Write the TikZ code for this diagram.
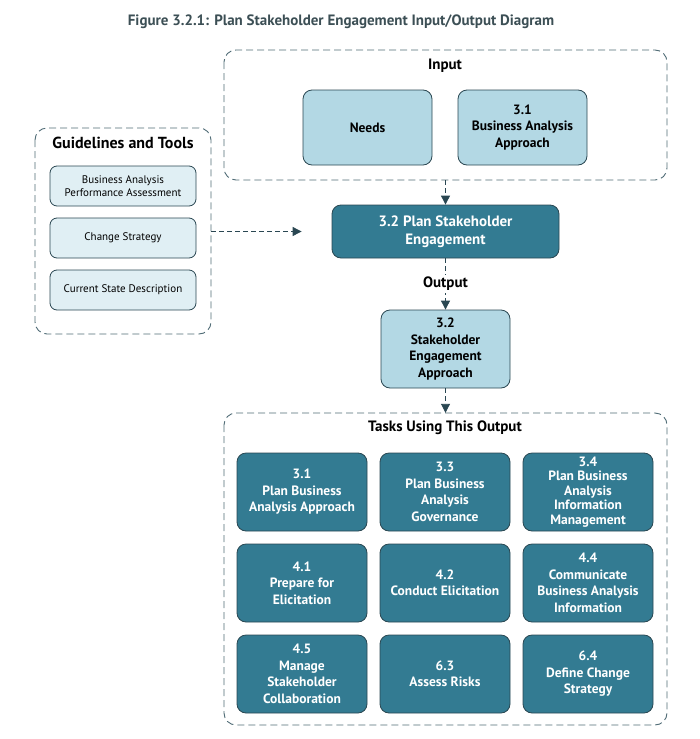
\documentclass[tikz,border=0pt]{standalone}
\usepackage{fontspec}
\setmainfont{PT Sans}
\usetikzlibrary{arrows.meta}
\definecolor{tealdark}{HTML}{337B92}
\definecolor{bluelight}{HTML}{B3D8E4}
\definecolor{bluepale}{HTML}{E0EFF4}
\definecolor{edge}{HTML}{2A4752}
\definecolor{dash}{HTML}{4F6B75}
\definecolor{ink}{HTML}{3C4F55}
\begin{document}
\begin{tikzpicture}[x=1pt,y=-1pt,
	box/.style={draw=edge,line width=.8pt,rounded corners=9pt,align=center,inner sep=2pt,font=\bfseries\fontsize{13.5}{16.5}\selectfont},
	inbox/.style={box,fill=bluelight,minimum width=129pt,minimum height=75pt},
	taskbox/.style={box,fill=tealdark,text=white,minimum width=130pt,minimum height=78pt},
	toolbox/.style={box,fill=bluepale,font=\fontsize{11}{12.5}\selectfont,minimum width=146pt,minimum height=40pt,rounded corners=7pt},
	group/.style={draw=dash,dashed,dash pattern=on 7pt off 4pt,line width=.9pt,rounded corners=12pt},
	flow/.style={draw=edge,dashed,dash pattern=on 5pt off 3pt,line width=.9pt,-{Triangle[length=9pt,width=9pt]}},
	caption/.style={font=\bfseries\fontsize{15}{17}\selectfont}]
\useasboundingbox(0,0)rectangle(700,739);
\node[caption,text=ink]at(341,22){Figure 3.2.1: Plan Stakeholder Engagement Input/Output Diagram};
% input
\draw[group](224,50)rectangle(667,180);
\node(input)[minimum width=443pt,minimum height=130pt]at(445.5,115){};
\node[caption]at(445,66){Input};
\node(needs)[inbox]at(367.5,127.5){Needs};
\node(baa)[inbox]at(522.5,127.5){3.1\\Business Analysis\\Approach};
% guidelines and tools
\draw[group](35,128)rectangle(211,334);
\node(guide)[minimum width=176pt,minimum height=206pt]at(123,231){};
\node[caption,font=\bfseries\fontsize{16}{18}\selectfont]at(123,143){Guidelines and Tools};
\node(bapa)[toolbox]at(123,186){Business Analysis\\Performance Assessment};
\node(cs)[toolbox]at(123,238){Change Strategy};
\node(csd)[toolbox]at(123,290){Current State Description};
% task
\node(plan)[box,fill=tealdark,text=white,minimum width=227pt,minimum height=53pt,font=\bfseries\fontsize{15}{18}\selectfont]at(445.5,231.5){3.2 Plan Stakeholder\\Engagement};
\node(sea)[inbox,minimum height=78pt]at(445.5,349){3.2\\Stakeholder\\Engagement\\Approach};
% tasks using this output
\draw[group](224,413)rectangle(667,725);
\node(tasks)[minimum width=443pt,minimum height=312pt]at(445.5,569){};
\node[caption]at(445,428){Tasks Using This Output};
\node(t31)[taskbox]at(302,492){3.1\\Plan Business\\Analysis Approach};
\node(t33)[taskbox]at(445,492){3.3\\Plan Business\\Analysis\\Governance};
\node(t34)[taskbox,font=\bfseries\fontsize{13.5}{14.5}\selectfont]at(588,492){3.4\\Plan Business\\Analysis\\Information\\Management};
\node(t41)[taskbox]at(302,583){4.1\\Prepare for\\Elicitation};
\node(t42)[taskbox]at(445,583){4.2\\Conduct Elicitation};
\node(t44)[taskbox]at(588,583){4.4\\Communicate\\Business Analysis\\Information};
\node(t45)[taskbox]at(302,674){4.5\\Manage\\Stakeholder\\Collaboration};
\node(t63)[taskbox]at(445,674){6.3\\Assess Risks};
\node(t64)[taskbox]at(588,674){6.4\\Define Change\\Strategy};
% connectors
\draw[flow](input.south)--(plan.north);
\draw[flow,shorten >=30pt](guide.east|-plan)--(plan.west);
\draw[flow](plan.south)--node[fill=white,caption,inner sep=2pt]{Output}(sea.north);
\draw[flow](sea.south)--(tasks.north);
\end{tikzpicture}
\end{document}
